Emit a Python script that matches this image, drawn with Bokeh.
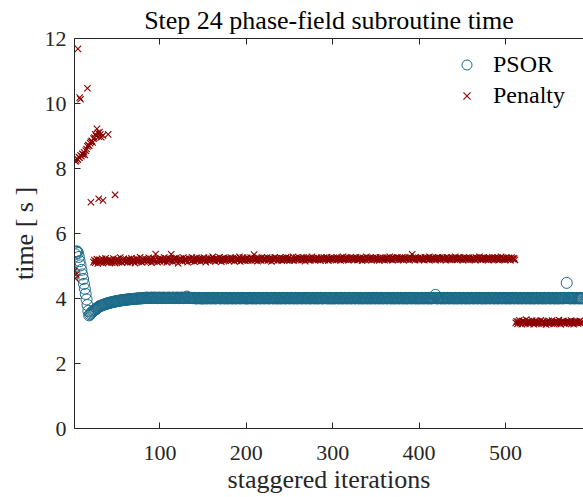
from bokeh.plotting import figure
from bokeh.models import Range1d, LinearAxis, FixedTicker, Legend, LegendItem, ColumnDataSource
from bokeh.embed import file_html
from bokeh.resources import INLINE

# ---------------- data ----------------
title_text = "Step 24 phase-field subroutine time"
x_label = "staggered iterations"
y_label = "time [ s ]"
x_ticks = [100, 200, 300, 400, 500]
y_ticks = [0, 2, 4, 6, 8, 10, 12]

psor_early = [
    4.79, 5.36, 5.44, 5.45, 5.40, 5.28, 5.15, 5.02, 4.88, 4.74, 4.60, 4.45, 4.30, 4.14, 3.97, 3.80, 3.62, 3.48, 3.51, 3.54,
    3.57, 3.60, 3.62, 3.64, 3.66, 3.68, 3.70, 3.72, 3.74, 3.76, 3.77, 3.78, 3.79, 3.80, 3.81, 3.82, 3.83, 3.84, 3.85, 3.85,
    3.86, 3.87, 3.88, 3.88, 3.89, 3.90, 3.90, 3.91, 3.91, 3.92, 3.92, 3.93, 3.93, 3.94, 3.94, 3.95, 3.95, 3.95, 3.96, 3.96,
    3.96, 3.97, 3.97, 3.97, 3.98, 3.98, 3.98, 3.98, 3.99, 3.99, 3.99, 3.99, 4.00, 4.00, 4.00, 4.00, 4.01, 4.00, 4.01, 4.01,
]
psor_plateau = [
    4.01, 4.02, 4.01, 4.02, 4.03, 4.02, 4.01, 4.02, 4.02, 4.03, 4.02, 4.01, 4.02, 4.03, 4.02, 4.02, 4.01, 4.02, 4.03, 4.02,
    4.02, 4.01, 4.02, 4.03, 4.02, 4.02, 4.01, 4.02, 4.02, 4.03, 4.02, 4.02, 4.01, 4.02, 4.03, 4.02, 4.01, 4.02, 4.02, 4.03,
    4.02, 4.01, 4.02, 4.02, 4.03, 4.02, 4.01, 4.02, 4.02, 4.02, 4.06, 4.03, 4.02, 4.02, 4.01, 4.02, 4.02, 4.01, 4.01, 4.02,
    4.01, 4.00, 4.01, 4.01, 4.02, 4.01, 4.00, 4.01, 4.01, 4.00, 4.01, 4.02, 4.01, 4.00, 4.01, 4.01, 4.02, 4.01, 4.00, 4.01,
    4.01, 4.02, 4.01, 4.00, 4.01, 4.01, 4.02, 4.01, 4.01, 4.00, 4.01, 4.02, 4.01, 4.01, 4.00, 4.01, 4.02, 4.01, 4.00, 4.01,
    4.02, 4.01, 4.01, 4.00, 4.01, 4.02, 4.01, 4.00, 4.01, 4.01, 4.02, 4.01, 4.00, 4.01, 4.01, 4.02, 4.01, 4.01, 4.00, 4.01,
    4.01, 4.00, 4.01, 4.02, 4.01, 4.01, 4.00, 4.01, 4.02, 4.01, 4.00, 4.01, 4.01, 4.02, 4.01, 4.00, 4.01, 4.01, 4.02, 4.01,
    4.00, 4.01, 4.02, 4.01, 4.01, 4.00, 4.01, 4.01, 4.02, 4.01, 4.00, 4.01, 4.02, 4.01, 4.01, 4.00, 4.01, 4.02, 4.01, 4.00,
    4.01, 4.01, 4.02, 4.01, 4.00, 4.01, 4.01, 4.02, 4.01, 4.00, 4.01, 4.02, 4.01, 4.01, 4.00, 4.01, 4.02, 4.01, 4.00, 4.01,
    4.01, 4.02, 4.01, 4.00, 4.01, 4.01, 4.02, 4.01, 4.00, 4.01, 4.02, 4.01, 4.01, 4.00, 4.01, 4.01, 4.02, 4.01, 4.00, 4.01,
    4.02, 4.01, 4.00, 4.01, 4.01, 4.02, 4.01, 4.00, 4.01, 4.01, 4.02, 4.01, 4.01, 4.00, 4.01, 4.02, 4.01, 4.00, 4.01, 4.01,
    4.01, 4.00, 4.01, 4.02, 4.01, 4.01, 4.00, 4.01, 4.02, 4.01, 4.00, 4.01, 4.01, 4.02, 4.01, 4.00, 4.01, 4.01, 4.02, 4.01,
    4.00, 4.01, 4.01, 4.02, 4.01, 4.00, 4.01, 4.02, 4.01, 4.01, 4.00, 4.01, 4.02, 4.01, 4.00, 4.01, 4.01, 4.02, 4.01, 4.00,
    4.01, 4.02, 4.01, 4.00, 4.01, 4.01, 4.02, 4.01, 4.00, 4.01, 4.02, 4.01, 4.01, 4.00, 4.01, 4.02, 4.01, 4.00, 4.01, 4.01,
    4.02, 4.01, 4.00, 4.01, 4.02, 4.01, 4.01, 4.00, 4.01, 4.02, 4.01, 4.00, 4.01, 4.01, 4.02, 4.01, 4.00, 4.01, 4.02, 4.01,
    4.01, 4.00, 4.01, 4.02, 4.01, 4.00, 4.01, 4.01, 4.02, 4.01, 4.00, 4.01, 4.02, 4.01, 4.01, 4.00, 4.01, 4.02, 4.01, 4.00,
    4.01, 4.01, 4.02, 4.01, 4.00, 4.01, 4.02, 4.01, 4.01, 4.00, 4.01, 4.02, 4.01, 4.00, 4.01, 4.01, 4.02, 4.01, 4.11, 4.01,
    4.00, 4.01, 4.02, 4.01, 4.01, 4.00, 4.01, 4.02, 4.01, 4.00, 4.01, 4.01, 4.02, 4.01, 4.00, 4.01, 4.02, 4.01, 4.01, 4.00,
    4.01, 4.02, 4.01, 4.00, 4.01, 4.01, 4.02, 4.01, 4.00, 4.01, 4.02, 4.01, 4.01, 4.00, 4.01, 4.02, 4.01, 4.00, 4.01, 4.01,
    4.02, 4.01, 4.00, 4.01, 4.01, 4.02, 4.01, 4.00, 4.01, 4.02, 4.01, 4.01, 4.00, 4.01, 4.02, 4.01, 4.00, 4.01, 4.01, 4.02,
    4.01, 4.00, 4.01, 4.02, 4.01, 4.01, 4.00, 4.01, 4.02, 4.01, 4.00, 4.01, 4.01, 4.02, 4.01, 4.00, 4.01, 4.02, 4.01, 4.01,
    4.00, 4.01, 4.02, 4.01, 4.00, 4.01, 4.01, 4.02, 4.01, 4.00, 4.01, 4.02, 4.01, 4.01, 4.00, 4.01, 4.02, 4.01, 4.00, 4.01,
    4.01, 4.02, 4.01, 4.00, 4.01, 4.02, 4.01, 4.01, 4.00, 4.01, 4.02, 4.01, 4.00, 4.01, 4.01, 4.02, 4.01, 4.00, 4.01, 4.02,
    4.01, 4.01, 4.00, 4.01, 4.02, 4.01, 4.00, 4.01, 4.01, 4.02, 4.01, 4.00, 4.01, 4.02, 4.01, 4.01, 4.00, 4.01, 4.02, 4.01,
    4.00, 4.01, 4.01, 4.02, 4.01, 4.00, 4.01, 4.02, 4.01, 4.01, 4.48, 4.01, 4.02, 4.01, 4.00, 4.01, 4.01, 4.02, 4.01, 4.00,
    4.01, 4.02, 4.01, 4.01, 4.00, 4.01, 4.02, 4.01, 4.00,
]
psor_time = psor_early + psor_plateau
psor_iter = list(range(1, len(psor_time) + 1))

pen_early_iter = [1, 2, 3, 5, 7, 8, 16, 20, 29, 34, 48, 40]
pen_early_time = [4.85, 4.62, 4.74, 11.68, 10.18, 10.13, 10.47, 6.96, 7.07, 7.02, 7.19, 9.05]
pen_cluster_iter = [2, 3, 4, 5, 6, 7, 8, 9, 10, 11, 12, 13, 14, 15, 16, 17, 18, 19, 20, 21,
                    22, 23, 24, 25, 26, 27, 28, 29, 30, 31, 32, 34]
pen_cluster_time = [8.22, 8.25, 8.30, 8.27, 8.35, 8.33, 8.40, 8.38, 8.45, 8.43, 8.50, 8.42, 8.55, 8.60, 8.68, 8.72,
                    8.70, 8.78, 8.82, 8.85, 8.80, 8.92, 8.95, 9.05, 9.00, 9.22, 9.10, 8.98, 9.12, 9.05, 8.96, 9.02]
pen_band_start = 23
pen_band_time = [
    5.12, 5.18, 5.10, 5.15, 5.21, 5.08, 5.14, 5.19, 5.11, 5.16, 5.22, 5.09, 5.13, 5.17, 5.24, 5.12, 5.15, 5.10, 5.20, 5.14,
    5.18, 5.11, 5.16, 5.23, 5.13, 5.09, 5.19, 5.15, 5.21, 5.12, 5.17, 5.26, 5.14, 5.10, 5.18, 5.22, 5.13, 5.16, 5.20, 5.11,
    5.15, 5.21, 5.17, 5.12, 5.24, 5.18, 5.14, 5.20, 5.09, 5.16, 5.23, 5.19, 5.13, 5.17, 5.27, 5.15, 5.11, 5.21, 5.18, 5.14,
    5.22, 5.16, 5.19, 5.13, 5.25, 5.17, 5.21, 5.10, 5.18, 5.24, 5.15, 5.20, 5.37, 5.16, 5.12, 5.22, 5.19, 5.14, 5.23, 5.17,
    5.20, 5.14, 5.26, 5.18, 5.22, 5.11, 5.19, 5.24, 5.16, 5.21, 5.36, 5.17, 5.13, 5.23, 5.20, 5.15, 5.25, 5.18, 5.08, 5.21,
    5.17, 5.23, 5.19, 5.14, 5.26, 5.20, 5.16, 5.22, 5.18, 5.12, 5.24, 5.19, 5.21, 5.15, 5.27, 5.18, 5.22, 5.13, 5.20, 5.25,
    5.16, 5.21, 5.18, 5.24, 5.14, 5.20, 5.23, 5.17, 5.26, 5.19, 5.12, 5.22, 5.18, 5.25, 5.20, 5.15, 5.23, 5.19, 5.28, 5.17,
    5.21, 5.14, 5.24, 5.19, 5.22, 5.16, 5.27, 5.20, 5.13, 5.23, 5.18, 5.25, 5.21, 5.16, 5.22, 5.19, 5.24, 5.15, 5.20, 5.26,
    5.18, 5.23, 5.20, 5.15, 5.25, 5.21, 5.17, 5.24, 5.19, 5.28, 5.14, 5.22, 5.18, 5.26, 5.21, 5.16, 5.23, 5.20, 5.25, 5.17,
    5.22, 5.19, 5.26, 5.16, 5.24, 5.20, 5.35, 5.18, 5.23, 5.21, 5.15, 5.25, 5.19, 5.22, 5.17, 5.27, 5.20, 5.24, 5.18, 5.23,
    5.20, 5.26, 5.17, 5.22, 5.19, 5.25, 5.14, 5.23, 5.21, 5.18, 5.27, 5.20, 5.24, 5.16, 5.22, 5.19, 5.26, 5.21, 5.17, 5.24,
    5.19, 5.23, 5.20, 5.27, 5.18, 5.22, 5.25, 5.16, 5.21, 5.24, 5.19, 5.28, 5.17, 5.23, 5.20, 5.26, 5.22, 5.18, 5.25, 5.21,
    5.24, 5.18, 5.22, 5.26, 5.20, 5.15, 5.23, 5.27, 5.21, 5.19, 5.25, 5.17, 5.22, 5.28, 5.20, 5.24, 5.18, 5.23, 5.21, 5.26,
    5.19, 5.24, 5.21, 5.17, 5.26, 5.22, 5.20, 5.25, 5.18, 5.23, 5.27, 5.21, 5.16, 5.24, 5.20, 5.26, 5.22, 5.19, 5.25, 5.21,
    5.23, 5.18, 5.26, 5.22, 5.20, 5.24, 5.17, 5.25, 5.21, 5.28, 5.19, 5.23, 5.20, 5.26, 5.22, 5.18, 5.24, 5.21, 5.27, 5.20,
    5.22, 5.25, 5.19, 5.23, 5.27, 5.21, 5.18, 5.24, 5.20, 5.26, 5.22, 5.16, 5.25, 5.21, 5.23, 5.19, 5.28, 5.22, 5.20, 5.24,
    5.21, 5.26, 5.18, 5.23, 5.25, 5.20, 5.22, 5.27, 5.19, 5.24, 5.21, 5.17, 5.26, 5.23, 5.20, 5.25, 5.22, 5.18, 5.24, 5.21,
    5.25, 5.19, 5.23, 5.28, 5.21, 5.24, 5.18, 5.26, 5.22, 5.20, 5.25, 5.21, 5.27, 5.19, 5.23, 5.24, 5.20, 5.26, 5.22, 5.18,
    5.23, 5.26, 5.20, 5.24, 5.21, 5.27, 5.19, 5.25, 5.22, 5.36, 5.20, 5.24, 5.18, 5.26, 5.23, 5.21, 5.25, 5.19, 5.22, 5.27,
    5.20, 5.24, 5.22, 5.18, 5.26, 5.23, 5.21, 5.25, 5.19, 5.28, 5.22, 5.24, 5.20, 5.26, 5.21, 5.23, 5.18, 5.25, 5.22, 5.27,
    5.21, 5.25, 5.19, 5.23, 5.26, 5.20, 5.24, 5.22, 5.18, 5.27, 5.21, 5.25, 5.23, 5.19, 5.26, 5.22, 5.20, 5.24, 5.21, 5.28,
    5.23, 5.19, 5.25, 5.22, 5.26, 5.20, 5.24, 5.21, 5.18, 5.27, 5.23, 5.20, 5.25, 5.22, 5.19, 5.26, 5.21, 5.24, 5.20, 5.23,
    5.25, 5.21, 5.18, 5.26, 5.23, 5.20, 5.24, 5.28, 5.22, 5.19, 5.25, 5.21, 5.27, 5.23, 5.20, 5.24, 5.22, 5.18, 5.26, 5.21,
    5.24, 5.20, 5.27, 5.22, 5.19, 5.25, 5.23, 5.21, 5.26, 5.18, 5.24, 5.22, 5.28, 5.20, 5.25, 5.21, 5.23, 5.19, 5.26, 5.22,
    5.20, 5.25, 5.22, 5.18, 5.26, 5.23, 5.21, 5.24, 5.19,
]
pen_low_time = [
    3.25, 3.30, 3.22, 3.28, 3.33, 3.24, 3.27, 3.21, 3.31, 3.26, 3.29, 3.23, 3.35, 3.27, 3.24, 3.30, 3.22, 3.28, 3.25, 3.32,
    3.26, 3.21, 3.29, 3.24, 3.31, 3.27, 3.23, 3.28, 3.25, 3.33, 3.22, 3.27, 3.30, 3.24, 3.26, 3.20, 3.29, 3.25, 3.31, 3.23,
    3.28, 3.24, 3.32, 3.26, 3.22, 3.29, 3.25, 3.30, 3.23, 3.27, 3.34, 3.25, 3.21, 3.28, 3.26, 3.31, 3.24, 3.27, 3.22, 3.29,
    3.25, 3.30, 3.23, 3.27, 3.32, 3.24, 3.28, 3.21, 3.26, 3.30, 3.25, 3.29, 3.23, 3.27, 3.31, 3.24, 3.28, 3.26,
]
pen_band_iter = list(range(pen_band_start, pen_band_start + len(pen_band_time)))
pen_low_start = pen_band_start + len(pen_band_time)
pen_low_iter = list(range(pen_low_start, pen_low_start + len(pen_low_time)))

pen_iter = pen_early_iter + pen_cluster_iter + pen_band_iter + pen_low_iter
pen_time = pen_early_time + pen_cluster_time + pen_band_time + pen_low_time

# ---------------- style ----------------
FONT = "Liberation Serif"
AX = "#262626"
PSOR_COLOR = "#1c6a8a"
PEN_COLOR = "#8c0000"

p = figure(frame_width=509, frame_height=390,
           x_range=Range1d(1, 590.4), y_range=Range1d(0, 12),
           output_backend="svg", toolbar_location=None,
           min_border_left=74, min_border_right=0, min_border_top=38, min_border_bottom=69,
           background_fill_color="white", border_fill_color="white")
p.outline_line_color = None
p.grid.visible = False

p.title.text = title_text
p.title.align = "center"
p.title.text_font = FONT
p.title.text_font_size = "26px"
p.title.text_font_style = "normal"
p.title.text_color = "black"
p.title.standoff = 7

src_psor = ColumnDataSource(dict(x=psor_iter, y=psor_time))
src_pen = ColumnDataSource(dict(x=pen_iter, y=pen_time))
r1 = p.scatter("x", "y", source=src_psor, marker="circle", size=11,
               fill_color=None, line_color=PSOR_COLOR, line_width=1)
r2 = p.scatter("x", "y", source=src_pen, marker="x", size=9,
               line_color=PEN_COLOR, line_width=1.1)

for ax in (p.xaxis[0], p.yaxis[0]):
    ax.axis_line_color = AX
    ax.major_tick_line_color = AX
    ax.major_tick_in = 6
    ax.major_tick_out = 0
    ax.minor_tick_line_color = None
    ax.major_label_text_font = FONT
    ax.major_label_text_font_size = "22px"
    ax.major_label_text_color = AX
    ax.axis_label_text_font = FONT
    ax.axis_label_text_font_size = "26px"
    ax.axis_label_text_font_style = "normal"
    ax.axis_label_text_color = AX

p.xaxis[0].ticker = FixedTicker(ticks=x_ticks)
p.yaxis[0].ticker = FixedTicker(ticks=y_ticks)
p.xaxis[0].axis_label = x_label
p.yaxis[0].axis_label = y_label
p.xaxis[0].major_label_standoff = 17
p.xaxis[0].axis_label_standoff = 2
p.yaxis[0].major_label_standoff = 8
p.yaxis[0].axis_label_standoff = 3

top = LinearAxis(ticker=FixedTicker(ticks=x_ticks), axis_line_color=AX,
                 major_tick_line_color=AX, major_tick_in=6, major_tick_out=0,
                 minor_tick_line_color=None, major_label_standoff=0,
                 major_label_text_font_size="0px",
                 major_label_overrides={t: "" for t in x_ticks})
p.add_layout(top, "above")

legend = Legend(items=[LegendItem(label="PSOR", renderers=[r1]),
                       LegendItem(label="Penalty", renderers=[r2])],
                location=(380, 319), padding=0, margin=0, spacing=4,
                glyph_width=25, glyph_height=25, label_height=25,
                label_standoff=14, border_line_color=None,
                background_fill_alpha=0,
                label_text_font=FONT, label_text_font_size="24px",
                label_text_color="black")
p.add_layout(legend)

open("out.html", "w").write(file_html(p, INLINE))
